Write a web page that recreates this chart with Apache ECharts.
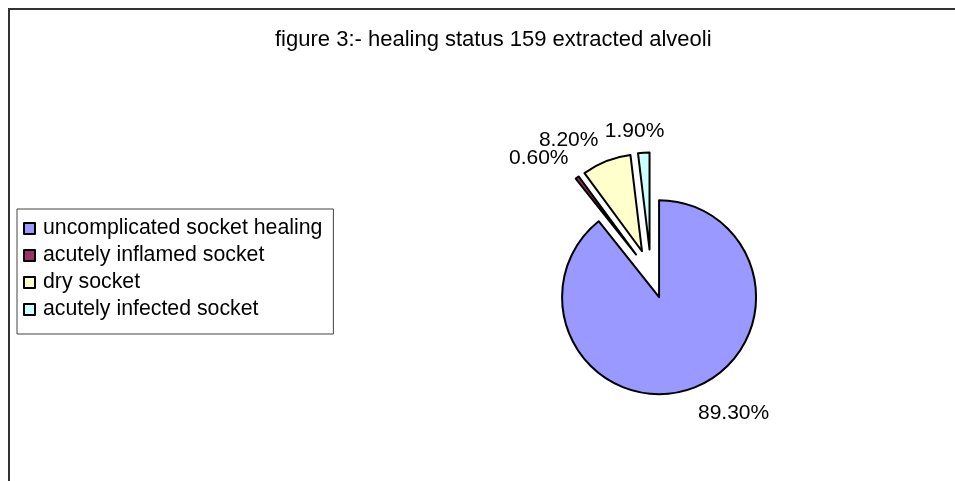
<!DOCTYPE html>
<html>
<head>
<meta charset="utf-8">
<script src="https://cdn.jsdelivr.net/npm/echarts@6/dist/echarts.min.js"></script>
<style>
  html, body { margin: 0; padding: 0; background: #fff; }
  #chart { width: 955px; height: 481px; }
</style>
</head>
<body>
<div id="chart"></div>
<script>
// healing status of 159 extracted alveoli (percent)
const categories = ['uncomplicated socket healing', 'acutely inflamed socket', 'dry socket', 'acutely infected socket']
const percents = [89.3, 0.6, 8.2, 1.9]
const sliceColors = ['#9999FF', '#993366', '#FFFFCC', '#CCFFFF']

const titleText = 'figure 3:- healing status 159 extracted alveoli'
const font = 'Liberation Sans, Arial, sans-serif'

// small nudges so the labels sit where excel put them
const labelNudge = [[-1, 2], [6, 0], [1, 1], [22, 2]]

const chart = echarts.init(document.getElementById('chart'), null, { renderer: 'canvas' })

const option = {
  animation: false,
  backgroundColor: '#fff',
  title: {
    text: titleText,
    left: 275,
    top: 29,
    padding: 0,
    textStyle: { fontFamily: font, fontSize: 22, fontWeight: 'normal', color: '#000' }
  },
  legend: {
    orient: 'vertical',
    left: 17,
    top: 209,
    padding: [9, 11, 14, 6],
    itemGap: 6,
    itemWidth: 11,
    itemHeight: 11,
    icon: 'rect',
    selectedMode: false,
    borderColor: '#444',
    borderWidth: 1,
    backgroundColor: '#fff',
    data: categories,
    textStyle: { fontFamily: font, fontSize: 21.3, color: '#000', padding: [0, 0, 0, 3] }
  },
  graphic: [{
    type: 'rect',
    shape: { x: 9, y: 9, width: 1200, height: 1000 },
    style: { fill: 'none', stroke: '#333', lineWidth: 2 },
    silent: true
  }],
  series: [{
    type: 'pie',
    center: [651, 274],
    radius: 97,
    startAngle: 90,
    clockwise: true,
    selectedMode: 'multiple',
    selectedOffset: 24.5,
    avoidLabelOverlap: false,
    emphasis: { disabled: true },
    itemStyle: { borderColor: '#000', borderWidth: 2 },
    label: {
      show: true,
      position: 'outside',
      distanceToLabelLine: 0,
      fontFamily: font,
      fontSize: 21,
      color: '#000',
      formatter: p => p.value.toFixed(2) + '%'
    },
    labelLine: { show: false, length: 24, length2: 0 },
    labelLayout: p => ({ dx: labelNudge[p.dataIndex][0], dy: labelNudge[p.dataIndex][1] }),
    data: categories.map((name, i) => ({
      name,
      value: percents[i],
      selected: true,
      itemStyle: { color: sliceColors[i] }
    }))
  }]
}

chart.setOption(option)
</script>
</body>
</html>
